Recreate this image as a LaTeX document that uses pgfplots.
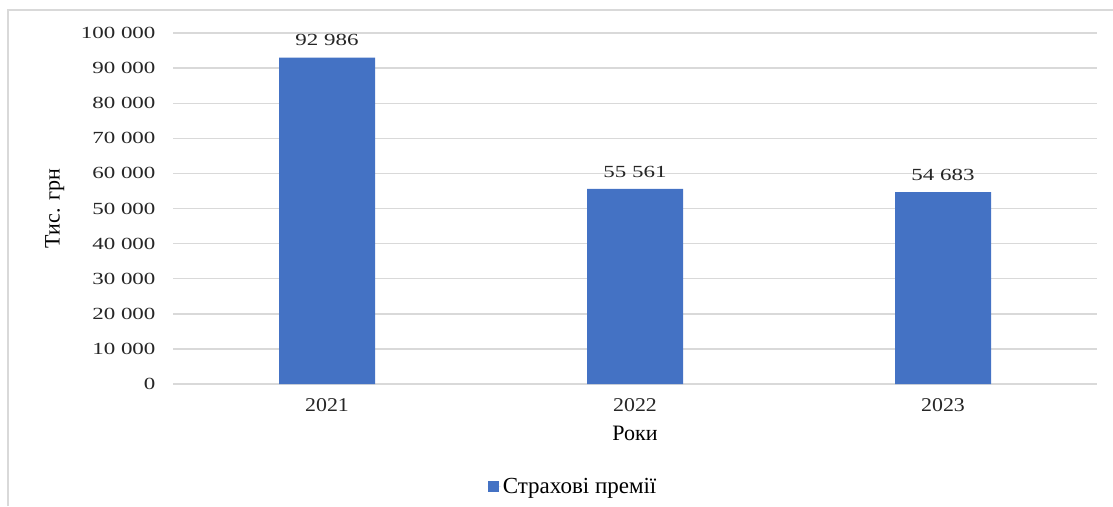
\documentclass[border=0pt]{standalone}
\usepackage{pgfplots}
\pgfplotsset{compat=1.18}
\usepackage{fontspec}
\setmainfont{Liberation Serif}
\newfontfamily\numfont{Liberation Serif}[FakeStretch=1.35]
\newfontfamily\yearfont{Liberation Serif}[FakeStretch=1.12]
\definecolor{barblue}{HTML}{4472C4}
\definecolor{gridgray}{HTML}{D9D9D9}

\begin{document}
\begin{tikzpicture}
% page extent and outer frame of the chart area
\useasboundingbox (0pt,0pt) rectangle (1113pt,-506pt);
\draw[gridgray, line width=1.3pt] (8pt,-506pt) -- (8pt,-10pt) -- (1113pt,-10pt);
\begin{axis}[
  at={(173pt,-384pt)}, anchor=south west,
  scale only axis, width=924pt, height=351pt,
  xmin=-0.5, xmax=2.5, ymin=0, ymax=100000,
  ytick={0,10000,...,100000},
  xtick={0,1,2}, xticklabels={2021,2022,2023},
  axis line style={draw=none}, major tick length=0pt,
  ymajorgrids, grid style={gridgray, line width=1.4pt},
  scaled y ticks=false,
  /pgf/number format/.cd, fixed, 1000 sep={\ }, assume math mode=true,
  /pgfplots/.cd,
  yticklabel style={font=\numfont\fontsize{17}{19}\selectfont, xshift=-14pt, text=black!85},
  xticklabel style={font=\yearfont\fontsize{19.5}{21}\selectfont, yshift=-11pt, text=black!85},
  ybar, bar width=96pt,
  nodes near coords,
  nodes near coords style={font=\numfont\fontsize{17}{19}\selectfont, yshift=8pt, text=black!85},
  xlabel={Роки},
  xlabel style={at={(axis description cs:0.5,-0.142)}, anchor=center, font=\fontsize{22}{24}\selectfont},
  ylabel={Тис. грн},
  ylabel style={at={(axis description cs:-0.128,0.5)}, anchor=center, font=\fontsize{22}{24}\selectfont},
  legend style={at={(axis description cs:0.433,-0.291)}, anchor=center, draw=none,
    font=\fontsize{23}{25}\selectfont},
  legend image code/.code={\fill[barblue] (0pt,-5.5pt) rectangle (11pt,5.5pt); \path (0pt,0pt) -- (13pt,0pt);},
]
\addplot[fill=barblue, draw=none] coordinates {(0,92986) (1,55561) (2,54683)};
\addlegendentry{Страхові премії}
\end{axis}
\end{tikzpicture}
\end{document}
